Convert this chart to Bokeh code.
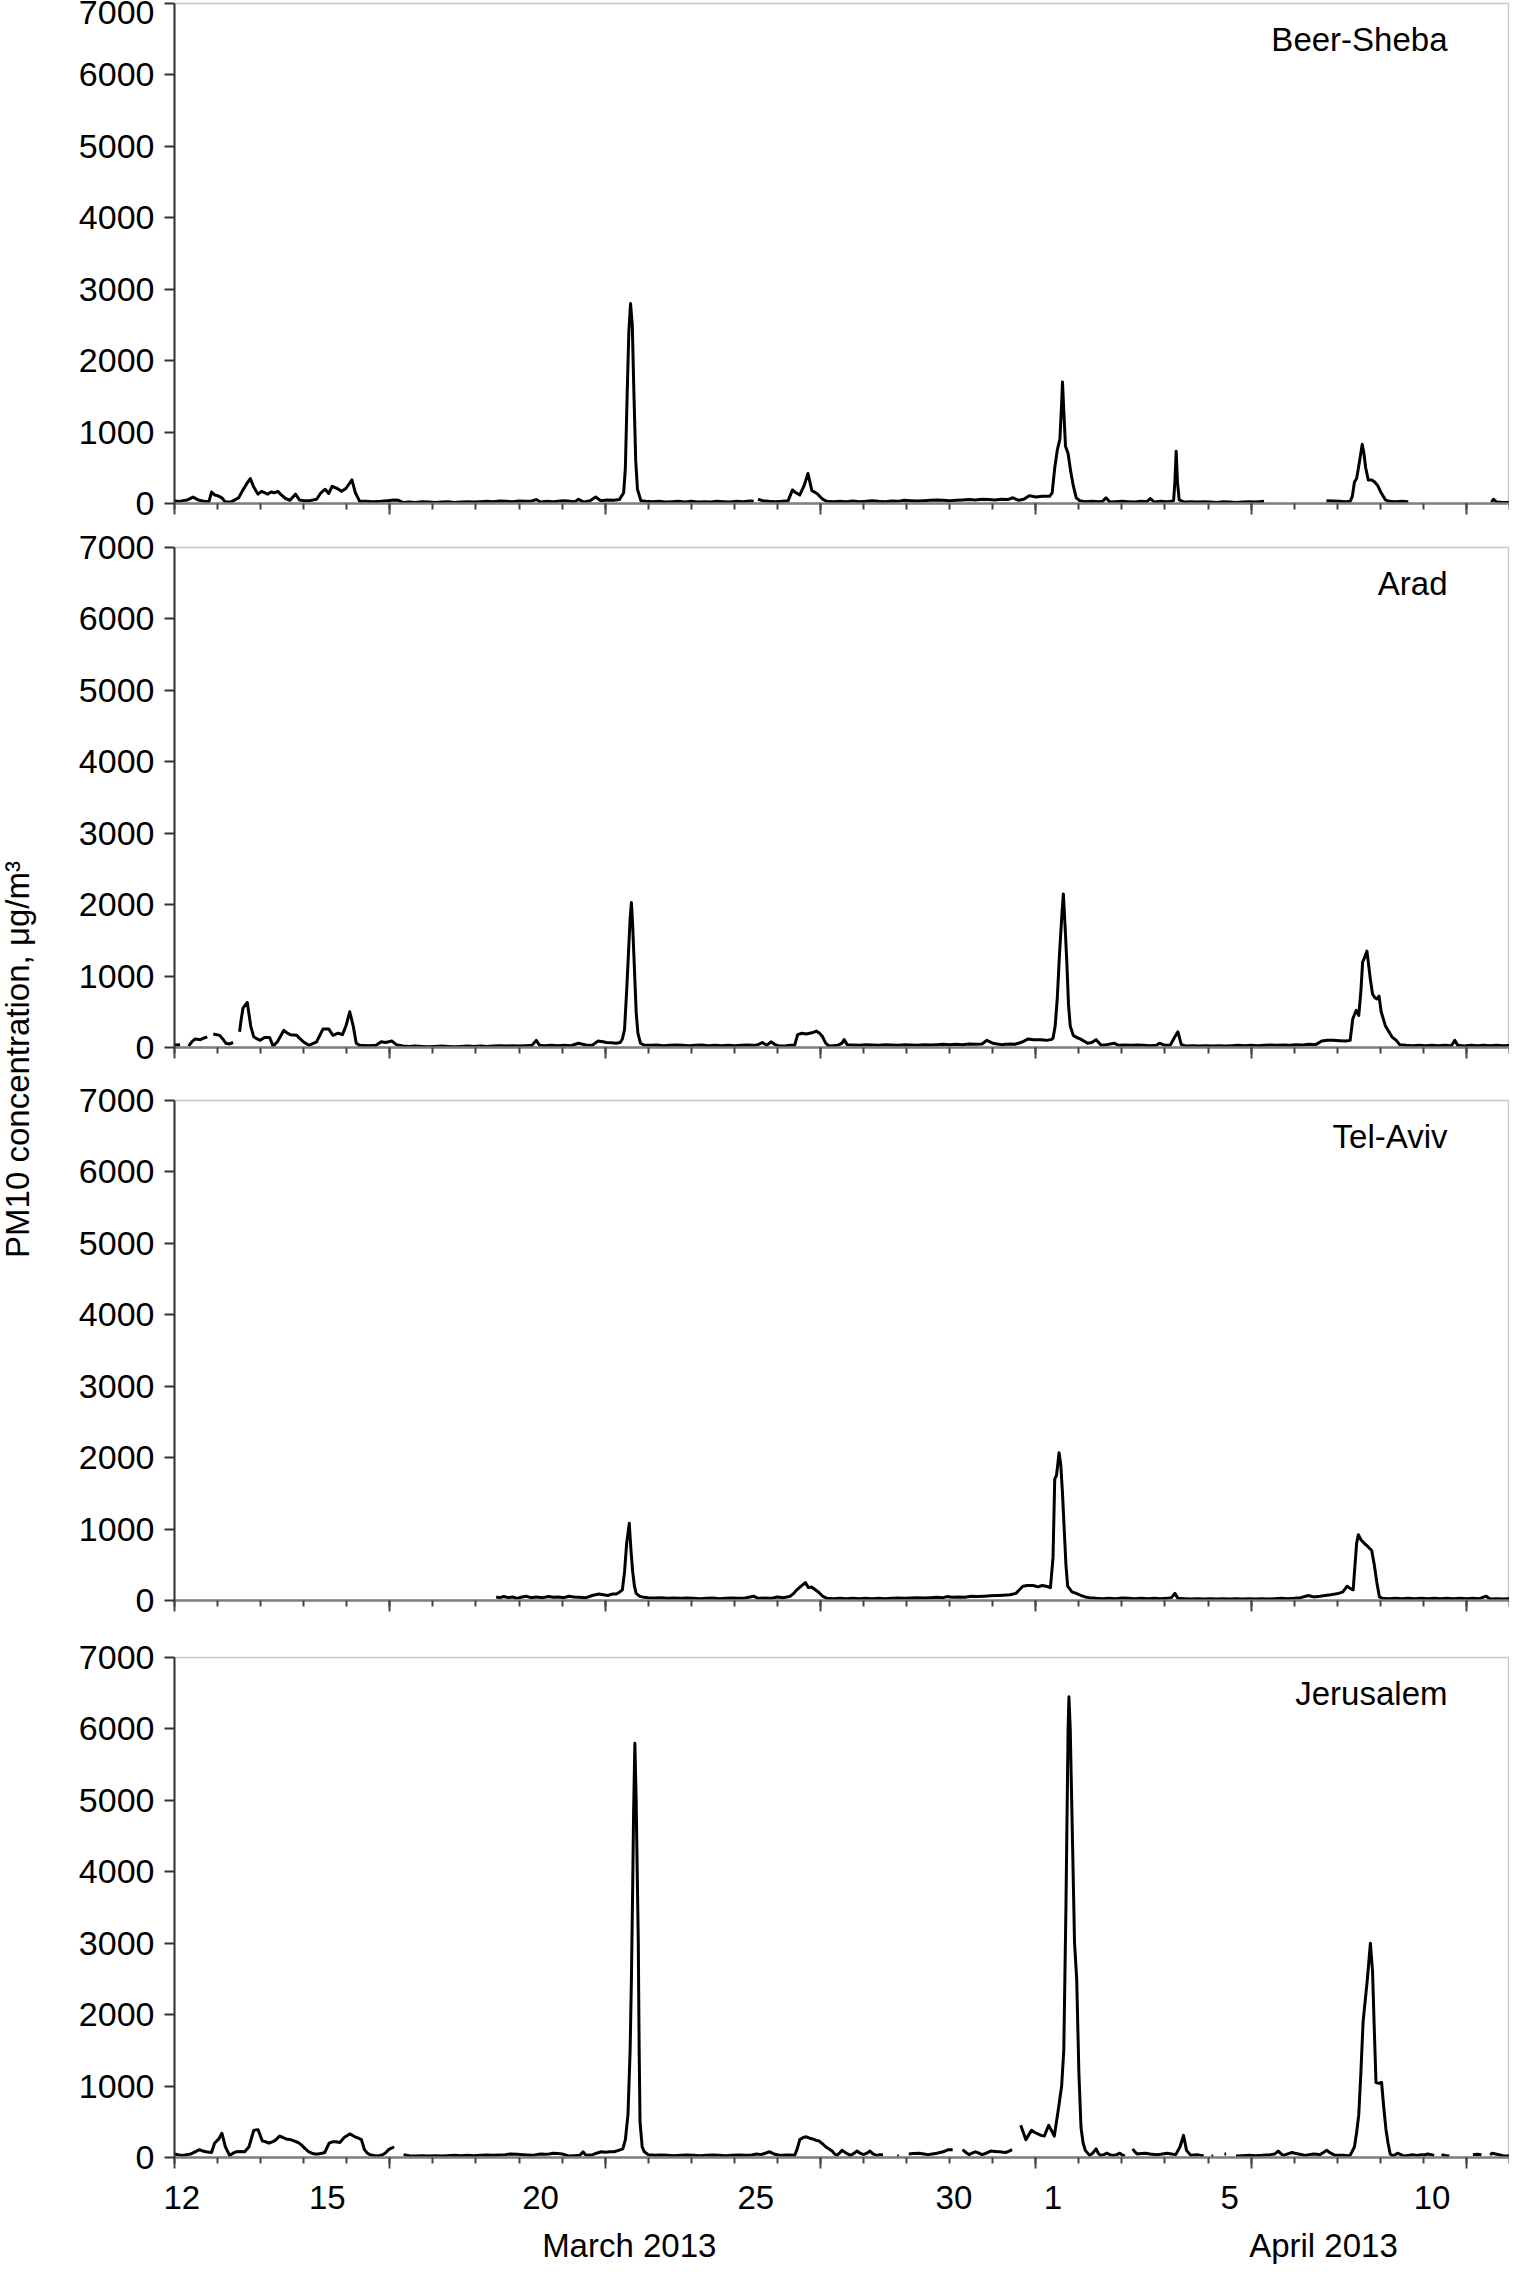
import math
import numpy as np
from bokeh.plotting import figure
from bokeh.models import Range1d, LinearAxis, FixedTicker, Label, ColumnDataSource
from bokeh.layouts import column, row
from bokeh.embed import file_html
from bokeh.resources import INLINE

NA = float("nan")

# x = days since 12 March 2013 00:00 ; y = PM10 concentration (ug/m3); NA = gap in record
beer_sheba = [
    (0.00, 40), (0.10, 30), (0.20, 40), (0.30, 50), (0.43, 90), (0.55, 50), (0.70, 30), (0.80, 25),
    (0.86, 160), (0.93, 120), (1.00, 110), (1.10, 80), (1.18, 20), (1.30, 20), (1.40, 50), (1.49, 80),
    (1.58, 180), (1.66, 260), (1.76, 350), (1.84, 230), (1.94, 130), (2.02, 170), (2.10, 150), (2.16, 130),
    (2.24, 160), (2.32, 150), (2.40, 170), (2.48, 120), (2.58, 70), (2.68, 45), (2.81, 130), (2.90, 50),
    (3.00, 40), (3.15, 40), (3.30, 60), (3.40, 150), (3.50, 200), (3.58, 140), (3.66, 240), (3.78, 210),
    (3.88, 170), (3.98, 210), (4.12, 330), (4.20, 150), (4.30, 30), (4.45, 30), (4.60, 25), (4.80, 30),
    (4.95, 40), (5.10, 50), (5.20, 45), (5.30, 15), (5.45, 20), (5.60, 15), (5.75, 25), (5.90, 20),
    (6.05, 15), (6.20, 20), (6.35, 25), (6.50, 15), (6.65, 20), (6.80, 25), (6.95, 20), (7.10, 25),
    (7.25, 30), (7.40, 25), (7.55, 35), (7.70, 30), (7.85, 25), (8.00, 35), (8.15, 30), (8.30, 35),
    (8.40, 55), (8.50, 20), (8.65, 30), (8.80, 25), (8.95, 35), (9.05, 40), (9.20, 30), (9.30, 25),
    (9.38, 60), (9.50, 20), (9.65, 40), (9.78, 90), (9.90, 40), (10.05, 50), (10.20, 45), (10.33, 55),
    (10.43, 150), (10.47, 500), (10.51, 1500), (10.55, 2400), (10.59, 2800), (10.63, 2500), (10.67, 1500),
    (10.71, 600), (10.75, 200), (10.83, 40), (10.95, 30), (11.10, 25), (11.25, 30), (11.40, 20),
    (11.55, 25), (11.70, 30), (11.85, 20), (12.00, 30), (12.15, 20), (12.30, 25), (12.45, 20), (12.60, 30),
    (12.75, 25), (12.90, 20), (13.05, 30), (13.20, 25), (13.35, 35), (13.45, 30), (13.50, NA),
    (13.55, 60), (13.65, 40), (13.80, 30), (13.95, 25), (14.10, 30), (14.25, 40), (14.35, 190),
    (14.43, 150), (14.52, 120), (14.62, 250), (14.71, 420), (14.80, 180), (14.92, 140), (15.05, 60),
    (15.15, 30), (15.30, 25), (15.45, 30), (15.60, 25), (15.75, 35), (15.90, 25), (16.05, 30), (16.20, 40),
    (16.35, 30), (16.50, 25), (16.65, 35), (16.80, 30), (16.95, 45), (17.10, 40), (17.25, 35), (17.40, 40),
    (17.55, 45), (17.70, 50), (17.85, 45), (18.00, 40), (18.15, 45), (18.30, 50), (18.45, 55), (18.60, 50),
    (18.75, 60), (18.90, 55), (19.05, 50), (19.20, 60), (19.35, 55), (19.47, 80), (19.60, 45), (19.72, 60),
    (19.85, 110), (20.00, 90), (20.15, 100), (20.32, 100), (20.38, 150), (20.44, 500), (20.50, 750),
    (20.56, 900), (20.60, 1400), (20.62, 1700), (20.65, 1300), (20.69, 800), (20.75, 700), (20.81, 450),
    (20.87, 250), (20.94, 80), (21.02, 40), (21.15, 25), (21.30, 30), (21.45, 25), (21.55, 30), (21.63, 80),
    (21.72, 20), (21.85, 25), (22.00, 30), (22.15, 25), (22.30, 20), (22.45, 30), (22.58, 25), (22.66, 70),
    (22.75, 20), (22.90, 30), (23.05, 25), (23.15, 30), (23.20, 40), (23.23, 300), (23.26, 730),
    (23.29, 300), (23.33, 50), (23.45, 20), (23.60, 25), (23.75, 20), (23.90, 25), (24.05, 20), (24.20, 15),
    (24.35, 25), (24.50, 20), (24.65, 15), (24.80, 20), (24.95, 25), (25.10, 20), (25.20, 25), (25.30, 30),
    (25.35, NA), (26.75, 40), (26.90, 35), (27.05, 30), (27.20, 25), (27.30, 30), (27.35, 100), (27.40, 300),
    (27.45, 350), (27.52, 600), (27.58, 830), (27.62, 700), (27.66, 500), (27.72, 330), (27.80, 330),
    (27.87, 300), (27.94, 250), (28.02, 150), (28.12, 50), (28.20, 30), (28.35, 25), (28.50, 30),
    (28.65, 25), (28.70, NA), (30.58, 20), (30.63, 60), (30.70, 20), (30.85, 15), (31.00, 15),
]

arad = [
    (0.00, 40), (0.07, 35), (0.13, 40), (0.15, NA), (0.33, 20), (0.40, 80), (0.48, 120), (0.60, 110),
    (0.68, 130), (0.76, 150), (0.80, NA), (0.90, 190), (1.05, 170), (1.12, 120), (1.19, 60), (1.28, 50),
    (1.36, 70), (1.40, NA), (1.51, 220), (1.55, 400), (1.59, 550), (1.69, 630), (1.77, 300), (1.84, 150),
    (1.92, 120), (1.99, 100), (2.09, 140), (2.21, 140), (2.29, 20), (2.39, 80), (2.54, 240), (2.62, 200),
    (2.69, 180), (2.84, 170), (2.92, 120), (2.99, 80), (3.12, 30), (3.30, 80), (3.45, 260), (3.58, 260),
    (3.68, 170), (3.80, 200), (3.90, 180), (3.98, 300), (4.07, 500), (4.15, 300), (4.22, 60), (4.30, 30),
    (4.50, 25), (4.68, 30), (4.80, 80), (4.90, 70), (5.05, 90), (5.15, 40), (5.30, 20), (5.45, 15),
    (5.60, 20), (5.75, 15), (5.90, 10), (6.05, 15), (6.20, 20), (6.35, 15), (6.50, 10), (6.65, 15),
    (6.80, 20), (6.95, 15), (7.10, 20), (7.25, 15), (7.40, 20), (7.55, 25), (7.70, 20), (7.85, 25),
    (8.00, 20), (8.15, 25), (8.30, 30), (8.40, 100), (8.48, 30), (8.60, 25), (8.75, 30), (8.90, 25),
    (9.05, 30), (9.20, 25), (9.38, 60), (9.55, 35), (9.70, 30), (9.83, 90), (9.95, 80), (10.03, 70),
    (10.15, 65), (10.25, 60), (10.35, 70), (10.40, 120), (10.45, 250), (10.50, 800), (10.54, 1300),
    (10.58, 1800), (10.61, 2030), (10.64, 1700), (10.68, 1100), (10.72, 500), (10.76, 200), (10.82, 60),
    (10.90, 35), (11.05, 30), (11.20, 35), (11.35, 25), (11.50, 30), (11.65, 35), (11.80, 30), (11.95, 25),
    (12.10, 30), (12.25, 35), (12.40, 25), (12.55, 30), (12.70, 25), (12.85, 30), (13.00, 25), (13.15, 30),
    (13.30, 35), (13.45, 30), (13.55, 40), (13.65, 70), (13.75, 30), (13.85, 80), (13.95, 40), (14.05, 20),
    (14.20, 25), (14.30, 30), (14.40, 30), (14.47, 180), (14.57, 200), (14.67, 190), (14.75, 200),
    (14.83, 210), (14.90, 230), (14.98, 200), (15.05, 150), (15.12, 60), (15.20, 20), (15.30, 25),
    (15.40, 30), (15.50, 60), (15.55, 110), (15.62, 40), (15.75, 35), (15.90, 30), (16.05, 40), (16.20, 35),
    (16.35, 30), (16.50, 40), (16.65, 35), (16.80, 30), (16.95, 40), (17.10, 35), (17.25, 30), (17.40, 40),
    (17.55, 35), (17.70, 40), (17.85, 45), (18.00, 40), (18.15, 45), (18.30, 40), (18.45, 50), (18.60, 45),
    (18.75, 50), (18.86, 100), (19.00, 60), (19.10, 50), (19.20, 40), (19.30, 45), (19.42, 50), (19.52, 45),
    (19.60, 60), (19.70, 80), (19.82, 120), (19.95, 110), (20.10, 110), (20.25, 100), (20.35, 110),
    (20.40, 130), (20.45, 300), (20.50, 700), (20.55, 1300), (20.60, 1800), (20.64, 2150), (20.68, 1700),
    (20.72, 1200), (20.76, 600), (20.80, 300), (20.87, 170), (20.95, 140), (21.03, 120), (21.12, 90),
    (21.20, 60), (21.30, 70), (21.40, 110), (21.52, 30), (21.65, 40), (21.82, 60), (21.92, 30), (22.05, 35),
    (22.20, 30), (22.35, 35), (22.50, 30), (22.65, 25), (22.80, 30), (22.87, 60), (23.00, 30), (23.12, 30),
    (23.22, 140), (23.30, 220), (23.38, 40), (23.50, 20), (23.65, 25), (23.80, 20), (23.95, 25), (24.10, 20),
    (24.25, 25), (24.40, 20), (24.55, 25), (24.70, 30), (24.85, 25), (25.00, 30), (25.15, 25), (25.30, 30),
    (25.45, 35), (25.60, 30), (25.75, 35), (25.90, 30), (26.05, 40), (26.20, 35), (26.35, 45), (26.50, 40),
    (26.64, 90), (26.77, 100), (26.90, 100), (27.05, 95), (27.20, 90), (27.30, 100), (27.36, 400),
    (27.44, 520), (27.50, 450), (27.55, 800), (27.59, 1200), (27.63, 1250), (27.69, 1350), (27.73, 1150),
    (27.77, 950), (27.82, 750), (27.87, 700), (27.92, 680), (27.97, 720), (28.02, 500), (28.07, 400),
    (28.12, 300), (28.17, 250), (28.27, 150), (28.37, 100), (28.45, 40), (28.60, 30), (28.75, 25),
    (28.90, 30), (29.05, 25), (29.20, 30), (29.35, 25), (29.50, 30), (29.65, 25), (29.73, 100), (29.80, 30),
    (29.95, 20), (30.10, 30), (30.25, 25), (30.40, 30), (30.55, 25), (30.70, 30), (30.85, 25), (31.00, 30),
]

tel_aviv = [
    (7.47, 50), (7.55, 40), (7.65, 55), (7.75, 40), (7.85, 50), (7.95, 30), (8.05, 45), (8.16, 60),
    (8.28, 40), (8.40, 50), (8.56, 40), (8.68, 55), (8.80, 45), (8.92, 50), (9.04, 40), (9.16, 60),
    (9.28, 50), (9.40, 45), (9.56, 40), (9.70, 70), (9.86, 90), (9.96, 80), (10.06, 70), (10.16, 90),
    (10.26, 90), (10.34, 120), (10.40, 150), (10.45, 400), (10.50, 800), (10.56, 1080), (10.60, 700),
    (10.64, 400), (10.68, 200), (10.72, 100), (10.80, 60), (10.86, 50), (11.00, 40), (11.15, 35),
    (11.30, 40), (11.45, 30), (11.60, 35), (11.75, 30), (11.90, 35), (12.05, 30), (12.20, 25), (12.35, 30),
    (12.50, 35), (12.65, 25), (12.80, 30), (12.95, 35), (13.10, 30), (13.25, 35), (13.45, 60), (13.55, 30),
    (13.70, 35), (13.85, 30), (14.00, 50), (14.15, 40), (14.30, 60), (14.38, 100), (14.45, 150),
    (14.55, 200), (14.65, 250), (14.72, 180), (14.79, 190), (14.88, 150), (14.95, 120), (15.05, 60),
    (15.15, 30), (15.30, 25), (15.45, 30), (15.60, 25), (15.75, 30), (15.90, 25), (16.05, 30), (16.20, 25),
    (16.35, 30), (16.50, 25), (16.65, 30), (16.80, 35), (16.95, 30), (17.10, 35), (17.25, 40), (17.40, 35),
    (17.55, 40), (17.70, 45), (17.85, 40), (17.94, 55), (18.05, 45), (18.20, 50), (18.35, 45), (18.50, 60),
    (18.65, 55), (18.80, 60), (18.95, 65), (19.10, 70), (19.25, 75), (19.40, 80), (19.54, 100),
    (19.62, 150), (19.70, 200), (19.80, 210), (19.94, 210), (20.05, 190), (20.15, 210), (20.24, 200),
    (20.34, 180), (20.40, 600), (20.44, 1700), (20.48, 1750), (20.51, 1900), (20.54, 2070), (20.58, 1900),
    (20.62, 1500), (20.66, 1000), (20.70, 500), (20.74, 200), (20.84, 120), (20.94, 100), (21.05, 70),
    (21.15, 50), (21.24, 40), (21.40, 30), (21.55, 25), (21.70, 30), (21.85, 25), (22.00, 35), (22.15, 30),
    (22.30, 25), (22.45, 30), (22.60, 25), (22.75, 30), (22.90, 25), (23.05, 30), (23.15, 40), (23.23, 100),
    (23.30, 30), (23.45, 25), (23.60, 20), (23.75, 25), (23.90, 20), (24.05, 25), (24.20, 20), (24.35, 25),
    (24.50, 20), (24.65, 25), (24.80, 20), (24.95, 25), (25.10, 20), (25.25, 25), (25.40, 20), (25.55, 25),
    (25.70, 30), (25.85, 25), (26.00, 30), (26.15, 40), (26.33, 70), (26.45, 50), (26.60, 60), (26.72, 70),
    (26.85, 80), (26.95, 90), (27.03, 100), (27.13, 120), (27.23, 200), (27.30, 170), (27.37, 150),
    (27.40, 400), (27.45, 800), (27.49, 920), (27.55, 850), (27.63, 800), (27.72, 750), (27.80, 700),
    (27.86, 500), (27.92, 250), (27.98, 50), (28.05, 30), (28.20, 25), (28.35, 30), (28.50, 25), (28.65, 30),
    (28.80, 25), (28.95, 30), (29.10, 25), (29.25, 30), (29.40, 25), (29.55, 30), (29.70, 25), (29.85, 30),
    (30.00, 25), (30.15, 30), (30.30, 25), (30.46, 60), (30.55, 20), (30.70, 25), (30.85, 20), (31.00, 25),
]

jerusalem = [
    (0.00, 50), (0.08, 40), (0.18, 30), (0.28, 40), (0.38, 50), (0.48, 80), (0.58, 110), (0.66, 90),
    (0.73, 80), (0.86, 70), (0.93, 200), (1.03, 260), (1.10, 340), (1.14, 250), (1.18, 150), (1.28, 30),
    (1.36, 60), (1.43, 80), (1.53, 85), (1.63, 80), (1.73, 150), (1.84, 380), (1.94, 390), (2.04, 230),
    (2.12, 220), (2.19, 200), (2.27, 220), (2.34, 240), (2.44, 300), (2.52, 280), (2.59, 260), (2.69, 250),
    (2.79, 230), (2.87, 210), (2.94, 180), (3.04, 120), (3.12, 80), (3.19, 60), (3.26, 50), (3.34, 50),
    (3.42, 60), (3.49, 70), (3.59, 200), (3.67, 220), (3.74, 220), (3.84, 210), (3.94, 280), (4.07, 330),
    (4.19, 290), (4.27, 270), (4.34, 250), (4.41, 110), (4.48, 60), (4.54, 40), (4.62, 30), (4.69, 20),
    (4.77, 30), (4.84, 40), (4.91, 70), (4.97, 110), (5.04, 130), (5.10, 150), (5.15, NA), (5.32, 40),
    (5.45, 25), (5.60, 20), (5.75, 25), (5.90, 20), (6.05, 25), (6.20, 20), (6.35, 25), (6.50, 30),
    (6.65, 25), (6.80, 30), (6.95, 25), (7.10, 30), (7.25, 35), (7.40, 30), (7.55, 35), (7.68, 40),
    (7.80, 50), (7.95, 45), (8.10, 40), (8.20, 35), (8.30, 30), (8.40, 40), (8.50, 50), (8.60, 45),
    (8.70, 50), (8.80, 60), (8.90, 55), (9.00, 50), (9.08, 35), (9.16, 20), (9.28, 25), (9.41, 30),
    (9.49, 80), (9.54, 40), (9.59, 30), (9.71, 40), (9.80, 60), (9.91, 80), (10.01, 75), (10.11, 80),
    (10.21, 80), (10.31, 100), (10.41, 120), (10.47, 250), (10.53, 600), (10.58, 1500), (10.61, 2500),
    (10.64, 3800), (10.66, 4800), (10.69, 5800), (10.72, 5000), (10.75, 3800), (10.77, 3000), (10.79, 1500),
    (10.81, 500), (10.86, 150), (10.91, 80), (11.00, 40), (11.15, 30), (11.30, 35), (11.45, 30), (11.60, 25),
    (11.75, 30), (11.90, 35), (12.05, 30), (12.20, 25), (12.35, 30), (12.50, 35), (12.65, 30), (12.80, 25),
    (12.95, 30), (13.10, 35), (13.25, 30), (13.40, 35), (13.52, 50), (13.62, 40), (13.72, 60), (13.82, 80),
    (13.92, 50), (14.02, 35), (14.10, 30), (14.25, 35), (14.40, 30), (14.46, 120), (14.52, 250),
    (14.60, 280), (14.67, 290), (14.75, 270), (14.82, 260), (14.90, 240), (14.97, 230), (15.05, 190),
    (15.12, 150), (15.20, 120), (15.27, 90), (15.33, 50), (15.38, 30), (15.44, 60), (15.50, 100),
    (15.55, 80), (15.63, 50), (15.70, 30), (15.78, 60), (15.85, 90), (15.92, 60), (16.00, 40), (16.08, 60),
    (16.15, 90), (16.22, 50), (16.30, 30), (16.38, 40), (16.45, 40), (16.47, NA), (16.78, 20), (16.82, 20),
    (16.84, NA), (17.05, 50), (17.15, 55), (17.30, 60), (17.40, 50), (17.50, 40), (17.60, 50), (17.70, 60),
    (17.85, 80), (17.97, 110), (18.07, 110), (18.12, NA), (18.30, 110), (18.38, 70), (18.45, 40),
    (18.52, 60), (18.60, 80), (18.68, 60), (18.75, 40), (18.85, 60), (18.95, 90), (19.05, 85), (19.15, 80),
    (19.30, 70), (19.38, 90), (19.45, 110), (19.52, NA), (19.65, 450), (19.71, 350), (19.77, 250),
    (19.84, 320), (19.90, 380), (19.98, 350), (20.05, 330), (20.12, 310), (20.20, 300), (20.25, 380),
    (20.30, 450), (20.37, 370), (20.43, 300), (20.48, 500), (20.53, 700), (20.60, 1000), (20.65, 1500),
    (20.70, 3500), (20.75, 6000), (20.77, 6450), (20.80, 6000), (20.85, 4500), (20.90, 3000), (20.95, 2500),
    (21.00, 1200), (21.05, 420), (21.10, 200), (21.15, 100), (21.25, 30), (21.32, 60), (21.40, 120),
    (21.45, 60), (21.50, 30), (21.58, 40), (21.65, 60), (21.72, 40), (21.80, 30), (21.88, 40), (21.95, 60),
    (22.01, 35), (22.07, 20), (22.12, NA), (22.25, 120), (22.30, 80), (22.35, 50), (22.45, 55), (22.55, 60),
    (22.65, 50), (22.80, 40), (22.90, 45), (23.05, 60), (23.15, 50), (23.25, 40), (23.35, 150), (23.43, 310),
    (23.50, 100), (23.60, 30), (23.68, 35), (23.75, 40), (23.83, 30), (23.90, 20), (23.95, NA), (24.08, 20),
    (24.12, 20), (24.14, NA), (24.38, 50), (24.42, 50), (24.44, NA), (24.65, 20), (24.80, 25), (24.95, 30),
    (25.10, 25), (25.25, 30), (25.35, 35), (25.45, 40), (25.55, 50), (25.63, 90), (25.70, 50), (25.75, 30),
    (25.85, 50), (25.95, 70), (26.02, 60), (26.10, 50), (26.18, 40), (26.25, 30), (26.35, 40), (26.45, 50),
    (26.52, 45), (26.60, 40), (26.68, 70), (26.75, 100), (26.85, 60), (26.95, 30), (27.05, 30), (27.15, 30),
    (27.25, 25), (27.30, 30), (27.40, 150), (27.45, 350), (27.50, 600), (27.55, 1200), (27.60, 1900),
    (27.65, 2200), (27.70, 2500), (27.77, 3000), (27.82, 2600), (27.86, 1800), (27.90, 1050), (27.97, 1040),
    (28.03, 1050), (28.08, 700), (28.13, 400), (28.18, 200), (28.23, 50), (28.30, 20), (28.40, 60),
    (28.48, 40), (28.55, 20), (28.65, 30), (28.75, 40), (28.85, 30), (28.95, 40), (29.02, 35), (29.10, 50),
    (29.18, 40), (29.25, 30), (29.30, NA), (29.42, 40), (29.50, 30), (29.60, 20), (29.65, NA), (30.15, 40),
    (30.25, 45), (30.35, 40), (30.40, NA), (30.55, 40), (30.60, 60), (30.68, 50), (30.75, 40), (30.85, 25),
    (30.95, 20), (31.00, 20),
]

station_names = ["Beer-Sheba", "Arad", "Tel-Aviv", "Jerusalem"]
station_series = [beer_sheba, arad, tel_aviv, jerusalem]

y_ticks = [0, 1000, 2000, 3000, 4000, 5000, 6000, 7000]
day_major_ticks = [0, 5, 10, 15, 20, 25, 30]
day_minor_ticks = list(range(0, 32))
day_label_pos = [0.17, 3.55, 8.5, 13.5, 18.1, 20.4, 24.5, 29.2]
day_labels = ["12", "15", "20", "25", "30", "1", "5", "10"]
month_label_pos = [10.56, 26.68]
month_labels = ["March 2013", "April 2013"]
y_title = "PM10 concentration, \u03bcg/m\u00b3"

FONT = "Liberation Sans"
FS = "33px"
FS_TICK = "34px"
TITLE_W = 40
LEFT = 134
FRAME_W = 1335
FRAME_H = 500
borders = [(3, 26), (18, 35), (18, 39), (18, 109)]
H_TOTAL = sum(t + FRAME_H + b for t, b in borders)
NAME_X = 29.56
NAME_Y = 6490

x_range = Range1d(0, 31)
figs = []
for i, (name, data) in enumerate(zip(station_names, station_series)):
    top, bottom = borders[i]
    p = figure(frame_width=FRAME_W, frame_height=FRAME_H, x_range=x_range, y_range=Range1d(0, 7000),
               x_axis_type=None, y_axis_type=None, output_backend="svg", toolbar_location=None,
               min_border_left=LEFT, min_border_right=0, min_border_top=top, min_border_bottom=bottom)
    p.outline_line_color = "#c8c8c8"
    p.outline_line_width = 1.5
    p.background_fill_color = "white"
    p.border_fill_color = "white"

    yax = LinearAxis(ticker=FixedTicker(ticks=y_ticks, minor_ticks=[]),
                     major_tick_in=0, major_tick_out=10, minor_tick_in=0, minor_tick_out=0,
                     major_label_standoff=10, major_label_text_font=FONT, major_label_text_font_size=FS_TICK,
                     major_label_text_color="black", axis_line_color="#333333", axis_line_width=2,
                     major_tick_line_color="#333333", major_tick_line_width=2)
    p.add_layout(yax, "left")

    xax = LinearAxis(ticker=FixedTicker(ticks=day_major_ticks, minor_ticks=day_minor_ticks),
                     major_tick_in=0, major_tick_out=11, minor_tick_in=0, minor_tick_out=6,
                     major_label_text_font_size="0px", major_label_text_alpha=0, major_label_standoff=0,
                     axis_line_color="#7f7f7f", axis_line_width=2.5,
                     major_tick_line_color="#444444", major_tick_line_width=2,
                     minor_tick_line_color="#444444", minor_tick_line_width=2)
    p.add_layout(xax, "below")

    if i == len(station_names) - 1:
        lab_ax = LinearAxis(ticker=FixedTicker(ticks=day_label_pos, minor_ticks=[]),
                            major_label_overrides=dict(zip(day_label_pos, day_labels)),
                            major_tick_in=0, major_tick_out=0, minor_tick_in=0, minor_tick_out=0,
                            axis_line_color=None, major_tick_line_color=None, minor_tick_line_color=None,
                            major_label_standoff=17, major_label_text_font=FONT,
                            major_label_text_font_size=FS, major_label_text_color="black")
        p.add_layout(lab_ax, "below")
        mon_ax = LinearAxis(ticker=FixedTicker(ticks=month_label_pos, minor_ticks=[]),
                            major_label_overrides=dict(zip(month_label_pos, month_labels)),
                            major_tick_in=0, major_tick_out=0, minor_tick_in=0, minor_tick_out=0,
                            axis_line_color=None, major_tick_line_color=None, minor_tick_line_color=None,
                            major_label_standoff=15, major_label_text_font=FONT,
                            major_label_text_font_size=FS, major_label_text_color="black")
        p.add_layout(mon_ax, "below")

    t = np.array([d[0] for d in data], dtype=float)
    v = np.array([d[1] for d in data], dtype=float)
    src = ColumnDataSource(dict(t=t, v=v))
    p.line("t", "v", source=src, line_color="black", line_width=3.0, line_join="round")

    p.add_layout(Label(x=NAME_X, y=NAME_Y, text=name, text_align="right", text_baseline="alphabetic",
                       text_font=FONT, text_font_size=FS, text_color="black"))
    figs.append(p)

tf = figure(width=TITLE_W, height=H_TOTAL, x_range=Range1d(0, TITLE_W), y_range=Range1d(H_TOTAL, 0),
            x_axis_type=None, y_axis_type=None, min_border=0, output_backend="svg", toolbar_location=None)
tf.outline_line_color = None
tf.add_layout(Label(x=17, y=1059, text=y_title, angle=math.pi / 2, text_align="center",
                    text_baseline="middle", text_font=FONT, text_font_size=FS, text_color="black"))

layout = row(tf, column(*figs))
open("out.html", "w").write(file_html(layout, INLINE, title="PM10"))
